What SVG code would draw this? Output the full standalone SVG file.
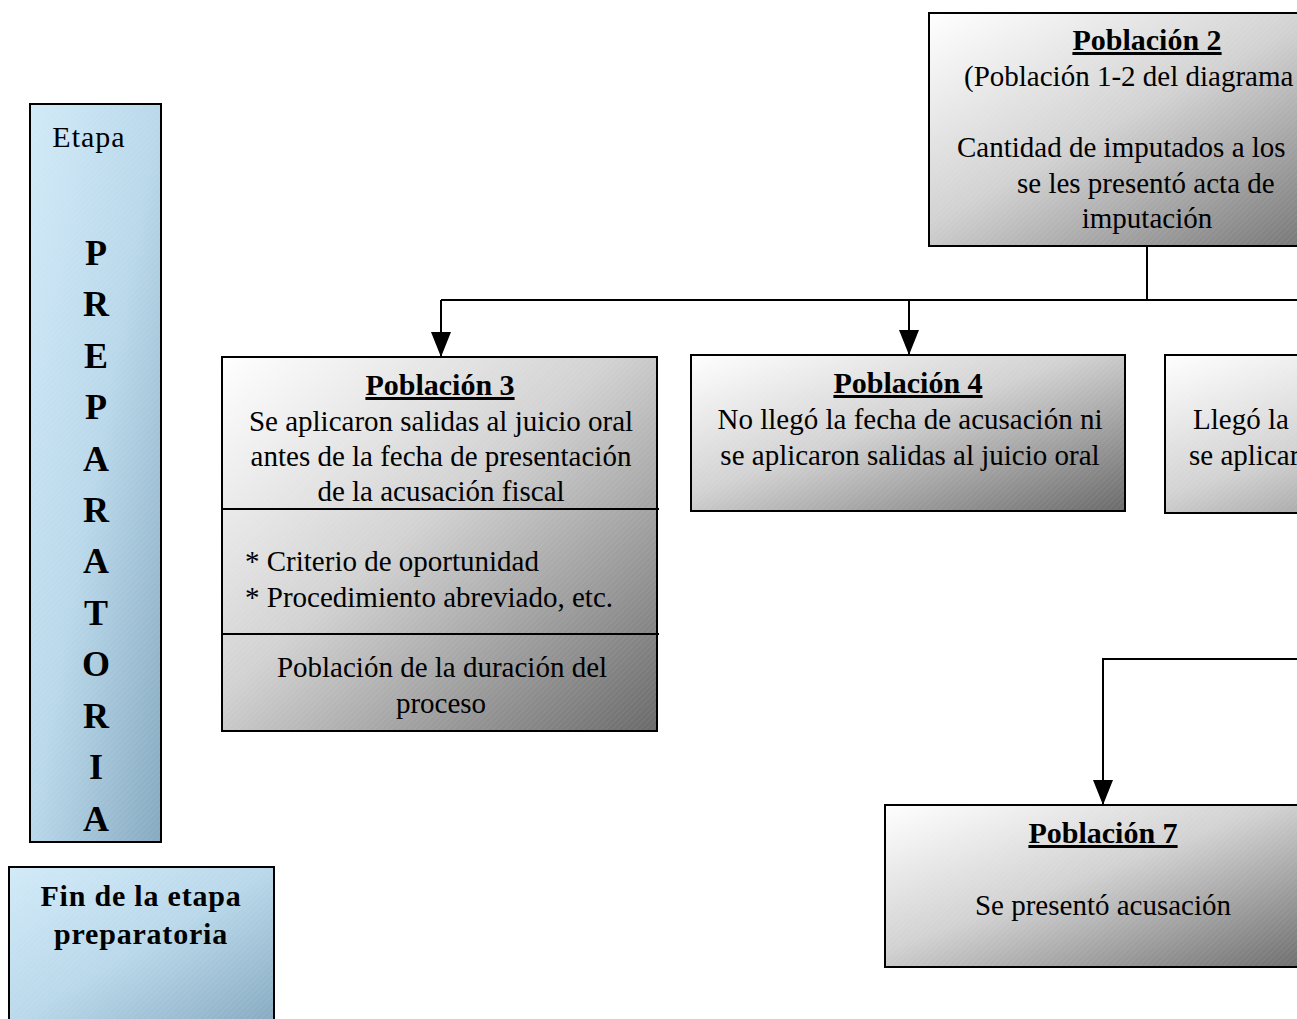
<svg xmlns="http://www.w3.org/2000/svg" width="1297" height="1019" viewBox="0 0 1297 1019">
<defs>
<linearGradient id="gGray" x1="0" y1="0" x2="1" y2="1">
<stop offset="0" stop-color="#ffffff"/>
<stop offset="0.45" stop-color="#d2d2d2"/>
<stop offset="1" stop-color="#6a6a6a"/>
</linearGradient>
<linearGradient id="gBlue" x1="0" y1="0" x2="1" y2="1">
<stop offset="0" stop-color="#d2eaf8"/>
<stop offset="0.5" stop-color="#b9d8ea"/>
<stop offset="1" stop-color="#86a9c0"/>
</linearGradient>
<pattern id="hatch" width="4" height="4" patternUnits="userSpaceOnUse" patternTransform="rotate(45)">
<line x1="0" y1="0" x2="0" y2="4" stroke="#ffffff" stroke-opacity="0.14" stroke-width="1"/>
</pattern>
<marker id="arr" viewBox="0 0 25 20" refX="25" refY="10" markerWidth="25" markerHeight="20" markerUnits="userSpaceOnUse" orient="auto">
<path d="M0,0 L25,10 L0,20 Z" fill="#000"/>
</marker>
</defs>
<style>
.box{stroke:#000;stroke-width:2}
.g{fill:url(#gGray)}
.b{fill:url(#gBlue)}
.h{fill:url(#hatch);stroke:none}
.t{font-family:"Liberation Serif","Times New Roman",serif;font-size:29px;fill:#000}
.c{text-anchor:middle}
.ti{font-weight:bold;text-decoration:underline;font-size:30px}
.bold{font-weight:bold;font-size:30px;letter-spacing:0.8px}
.et{font-size:30px;letter-spacing:1px}
.big{font-size:36px;font-weight:bold;text-anchor:middle}
.con{fill:none;stroke:#000;stroke-width:2}
</style>

<g id="connectors">
<path class="con" d="M1147,246 V300"/>
<path class="con" d="M441,300 H1297"/>
<path class="con" d="M441,300 V357" marker-end="url(#arr)"/>
<path class="con" d="M909,300 V355" marker-end="url(#arr)"/>
<path class="con" d="M1297,659 H1103 V805" marker-end="url(#arr)"/>
</g>

<g id="etapa">
<rect class="box b" x="30" y="104" width="131" height="738"/>
<rect class="h" x="31" y="105" width="129" height="736"/>
<text class="t c et" x="89" y="147">Etapa</text>
<text class="t big" x="96" y="265">P</text>
<text class="t big" x="96" y="316">R</text>
<text class="t big" x="96" y="368">E</text>
<text class="t big" x="96" y="419">P</text>
<text class="t big" x="96" y="471">A</text>
<text class="t big" x="96" y="522">R</text>
<text class="t big" x="96" y="573">A</text>
<text class="t big" x="96" y="625">T</text>
<text class="t big" x="96" y="676">O</text>
<text class="t big" x="96" y="728">R</text>
<text class="t big" x="96" y="779">I</text>
<text class="t big" x="96" y="831">A</text>
</g>

<g id="fin">
<rect class="box b" x="9" y="867" width="265" height="160"/>
<rect class="h" x="10" y="868" width="263" height="158"/>
<text class="t c bold" x="141" y="906">Fin de la etapa</text>
<text class="t c bold" x="141" y="944">preparatoria</text>
</g>

<g id="poblacion2">
<rect class="box g" x="929" y="13" width="436" height="233"/>
<rect class="h" x="930" y="14" width="434" height="231"/>
<text class="t c ti" x="1147" y="50">Población 2</text>
<text class="t" x="964" y="86">(Población 1-2 del diagrama</text>
<text class="t" x="957" y="157">Cantidad de imputados a los</text>
<text class="t" x="1017" y="193">se les presentó acta de</text>
<text class="t c" x="1147" y="228">imputación</text>
</g>

<g id="poblacion3">
<rect class="box g" x="222" y="357" width="435" height="374"/>
<rect class="h" x="223" y="358" width="433" height="372"/>
<line class="con" x1="222" y1="509" x2="659" y2="509"/>
<line class="con" x1="222" y1="634" x2="659" y2="634"/>
<text class="t c ti" x="440" y="395">Población 3</text>
<text class="t c" x="441" y="431">Se aplicaron salidas al juicio oral</text>
<text class="t c" x="441" y="466">antes de la fecha de presentación</text>
<text class="t c" x="441" y="501">de la acusación fiscal</text>
<text class="t" x="245" y="571">* Criterio de oportunidad</text>
<text class="t" x="245" y="607">* Procedimiento abreviado, etc.</text>
<text class="t c" x="442" y="677">Población de la duración del</text>
<text class="t c" x="441" y="713">proceso</text>
</g>

<g id="poblacion4">
<rect class="box g" x="691" y="355" width="434" height="156"/>
<rect class="h" x="692" y="356" width="432" height="154"/>
<text class="t c ti" x="908" y="393">Población 4</text>
<text class="t c" x="910" y="429">No llegó la fecha de acusación ni</text>
<text class="t c" x="910" y="465">se aplicaron salidas al juicio oral</text>
</g>

<g id="poblacion5">
<rect class="box g" x="1165" y="355" width="436" height="158"/>
<rect class="h" x="1166" y="356" width="434" height="156"/>
<text class="t" x="1193" y="429">Llegó la</text>
<text class="t" x="1189" y="465">se aplicar</text>
</g>

<g id="poblacion7">
<rect class="box g" x="885" y="805" width="436" height="162"/>
<rect class="h" x="886" y="806" width="434" height="160"/>
<text class="t c ti" x="1103" y="843">Población 7</text>
<text class="t c" x="1103" y="915">Se presentó acusación</text>
</g>
</svg>
